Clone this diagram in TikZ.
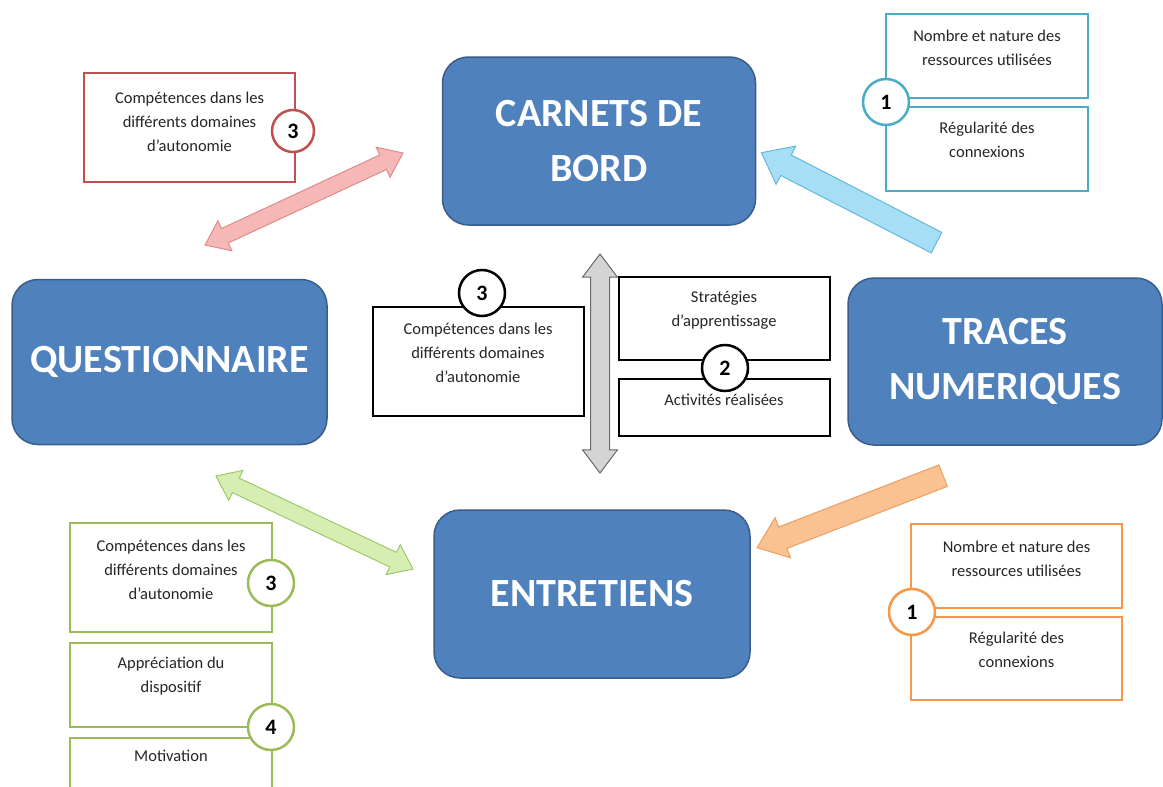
\documentclass[tikz,border=0pt]{standalone}
\usepackage{fontspec}
\setmainfont{Carlito}
\usetikzlibrary{shapes.arrows,calc,positioning}

\definecolor{boxblue}{RGB}{79,129,189}
\definecolor{boxblueline}{RGB}{56,93,138}
\definecolor{redline}{RGB}{192,80,77}
\definecolor{tealline}{RGB}{75,172,198}
\definecolor{greenline}{RGB}{155,187,89}
\definecolor{orangeline}{RGB}{247,150,70}
\definecolor{redfill}{RGB}{246,184,182}
\definecolor{rededge}{RGB}{222,140,138}
\definecolor{cyanfill}{RGB}{165,222,245}
\definecolor{cyanedge}{RGB}{100,184,218}
\definecolor{greenfill}{RGB}{215,238,178}
\definecolor{greenedge}{RGB}{158,200,108}
\definecolor{orangefill}{RGB}{250,193,145}
\definecolor{orangeedge}{RGB}{234,158,98}
\definecolor{grayfill}{RGB}{212,212,212}
\definecolor{grayedge}{RGB}{105,105,105}

\tikzset{every picture/.style={line width=0.75pt},
  bigbox/.style={rectangle, rounded corners=26pt, fill=boxblue, draw=boxblueline, line width=1.5pt,
    text=white, font=\bfseries\fontsize{40}{55}\selectfont, align=center, inner sep=0pt},
  itembox/.style={rectangle, draw=#1, line width=2pt, fill=white, minimum width=211pt, inner sep=0pt},
  itemtext/.style={align=center, font=\fontsize{16.5}{24}\selectfont, text=black!85, inner sep=0pt},
  numcircle/.style={circle, draw=#1, line width=2.5pt, fill=white, minimum size=44pt, inner sep=0pt,
    font=\bfseries\fontsize{22}{22}\selectfont},
  thinarrow/.style 2 args={double arrow, fill=#1, draw=#2, line width=1pt, inner xsep=0pt, inner ysep=7.5pt,
    double arrow head extend=8.5pt, double arrow tip angle=74, minimum width=0pt},
  thickarrow/.style 2 args={single arrow, fill=#1, draw=#2, line width=1pt, inner xsep=0pt, inner ysep=11pt,
    single arrow head extend=10pt, single arrow tip angle=76, minimum width=0pt}
}

\begin{document}
\begin{tikzpicture}[x=1pt,y=1pt,yscale=-1,xscale=1]
  \useasboundingbox (0,0) rectangle (1163,787);
  \clip (0,0) rectangle (1163,787);

  %Shape: Rounded Rectangles
  \node[bigbox, minimum width=313pt, minimum height=168pt] (carnets) at (599,141) {CARNETS DE\\BORD};
  \node[bigbox, minimum width=315pt, minimum height=165pt] (quest) at (169.5,362) {QUESTIONNAIRE};
  \node[bigbox, minimum width=314pt, minimum height=167pt] (traces) at (1005,361.5) {TRACES\\NUMERIQUES};
  \node[bigbox, minimum width=316pt, minimum height=168pt] (entretiens) at (592,594) {ENTRETIENS};

  %Arrow end points
  \coordinate (redA) at (205,245);
  \coordinate (redB) at (403,153);
  \coordinate (cyanTail) at (943,246);
  \coordinate (cyanTip) at (768,156);
  \coordinate (greenA) at (216,476);
  \coordinate (greenB) at (413,569);
  \coordinate (orangeTail) at (950,473);
  \coordinate (orangeTip) at (764,545);
  \coordinate (grayA) at (600,254);
  \coordinate (grayB) at (600,473);

  %Shape: Arrows
  \path let \p1=($(redB)-(redA)$), \n1={atan2(\y1,\x1)}, \n2={veclen(\x1,\y1)} in
    node[thinarrow={redfill}{rededge}, rotate=-\n1, minimum height=\n2] (redarrow) at ($(redA)!0.5!(redB)$) {};
  \path let \p1=($(cyanTip)-(cyanTail)$), \n1={atan2(\y1,\x1)}, \n2={veclen(\x1,\y1)} in
    node[thickarrow={cyanfill}{cyanedge}, rotate=-\n1, minimum height=\n2] (cyanarrow) at ($(cyanTail)!0.5!(cyanTip)$) {};
  \path let \p1=($(greenB)-(greenA)$), \n1={atan2(\y1,\x1)}, \n2={veclen(\x1,\y1)} in
    node[thinarrow={greenfill}{greenedge}, rotate=-\n1, minimum height=\n2] (greenarrow) at ($(greenA)!0.5!(greenB)$) {};
  \path let \p1=($(orangeTip)-(orangeTail)$), \n1={atan2(\y1,\x1)}, \n2={veclen(\x1,\y1)} in
    node[thickarrow={orangefill}{orangeedge}, rotate=-\n1, minimum height=\n2] (orangearrow) at ($(orangeTail)!0.5!(orangeTip)$) {};
  \path let \p1=($(grayB)-(grayA)$), \n1={atan2(\y1,\x1)}, \n2={veclen(\x1,\y1)} in
    node[thinarrow={grayfill}{grayedge}, inner ysep=9pt, double arrow head extend=8pt, rotate=-\n1, minimum height=\n2] (grayarrow) at ($(grayA)!0.5!(grayB)$) {};

  %Red group
  \node[itembox=redline, minimum height=109pt] (rbox) at (189.5,127.5) {};
  \node[itemtext] (rtext) at ($(rbox.center)+(0,-6)$) {Compétences dans les\\différents domaines\\d’autonomie};
  \node[numcircle=redline, minimum size=42pt] (rnum) at (293,131) {3};

  %Teal group
  \node[itembox=tealline, minimum width=202pt, minimum height=84pt] (tbox1) at (987,56) {};
  \node[itembox=tealline, minimum width=202pt, minimum height=84pt] (tbox2) at (987,149) {};
  \node[itemtext] (ttext1) at ($(tbox1.center)+(0,-8)$) {Nombre et nature des\\ressources utilisées};
  \node[itemtext] (ttext2) at ($(tbox2.center)+(0,-9)$) {Régularité des\\connexions};
  \node[numcircle=tealline, minimum size=46pt] (tnum) at (886,102) {1};

  %Central group
  \node[itembox=black, minimum height=109pt] (cbox) at (478,361) {};
  \node[itemtext] (ctext) at ($(cbox.center)+(0,-8)$) {Compétences dans les\\différents domaines\\d’autonomie};
  \node[numcircle=black, minimum size=46pt] (cnum) at (482,293) {3};
  \node[itembox=black, minimum height=83pt] (sbox) at (724,318.5) {};
  \node[itembox=black, minimum height=57pt] (abox) at (724,407.5) {};
  \node[itemtext] (stext) at ($(sbox.center)+(0,-8)$) {Stratégies\\d’apprentissage};
  \node[itemtext] (atext) at ($(abox.center)+(0,-8)$) {Activités réalisées};
  \node[numcircle=black, minimum size=46pt] (snum) at (725,368) {2};

  %Green group
  \node[itembox=greenline, minimum width=202pt, minimum height=109pt] (gbox1) at (171,577.5) {};
  \node[itembox=greenline, minimum width=202pt, minimum height=84pt] (gbox2) at (171,684.5) {};
  \node[itembox=greenline, minimum width=202pt, minimum height=84pt, anchor=north] (gbox3) at (171,737) {};
  \node[itemtext] (gtext1) at ($(gbox1.center)+(0,-8)$) {Compétences dans les\\différents domaines\\d’autonomie};
  \node[itemtext] (gtext2) at ($(gbox2.center)+(0,-8)$) {Appréciation du\\dispositif};
  \node[itemtext, below=13pt of gbox3.north] (gtext3) {Motivation};
  \node[numcircle=greenline, minimum size=46pt] (gnum1) at (271,583) {3};
  \node[numcircle=greenline, minimum size=46pt] (gnum2) at (271,727) {4};

  %Orange group
  \node[itembox=orangeline, minimum height=84pt] (obox1) at (1016.5,566) {};
  \node[itembox=orangeline, minimum height=83pt] (obox2) at (1016.5,658) {};
  \node[itemtext] (otext1) at ($(obox1.center)+(0,-7)$) {Nombre et nature des\\ressources utilisées};
  \node[itemtext] (otext2) at ($(obox2.center)+(0,-8)$) {Régularité des\\connexions};
  \node[numcircle=orangeline, minimum size=46pt] (onum) at (912,612) {1};
\end{tikzpicture}
\end{document}
